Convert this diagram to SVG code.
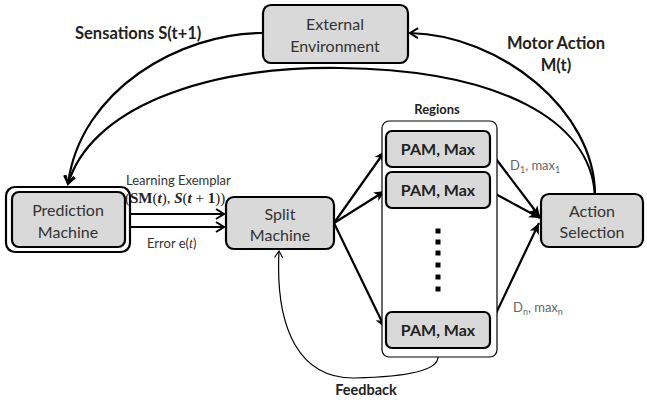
<svg xmlns="http://www.w3.org/2000/svg" width="647" height="402" viewBox="0 0 647 402">
<defs>
<style>
.box{fill:#d9d9d9;stroke:#000;stroke-width:2.2}
.t{font-family:Lato,"Open Sans",sans-serif;font-size:16px;fill:#333;text-anchor:middle}
.b{font-family:Lato,"Open Sans",sans-serif;font-weight:bold;fill:#222}
.c{fill:none;stroke:#000;stroke-width:2.2}
.thin{fill:none;stroke:#000;stroke-width:1.2}
.lbl{font-family:Lato,"Open Sans",sans-serif;font-size:13px;fill:#333}
.g{font-family:Lato,"Open Sans",sans-serif;font-size:13px;fill:#666}
.m{font-family:"Liberation Serif","DejaVu Serif",serif;font-size:15px;fill:#222}
</style>
<marker id="open" viewBox="0 0 12 12" refX="10" refY="6" markerWidth="12" markerHeight="12" markerUnits="userSpaceOnUse" orient="auto">
<path d="M2,1 L10,6 L2,11" fill="none" stroke="#000" stroke-width="2"/>
</marker>
<marker id="solid" viewBox="0 0 12 12" refX="11" refY="6" markerWidth="12" markerHeight="12" markerUnits="userSpaceOnUse" orient="auto">
<path d="M0,1 L11,6 L0,11 L3,6 Z" fill="#000"/>
</marker>
<marker id="thinhead" viewBox="0 0 12 12" refX="10" refY="6" markerWidth="10" markerHeight="10" markerUnits="userSpaceOnUse" orient="auto">
<path d="M2,1 L10,6 L2,11" fill="none" stroke="#000" stroke-width="1.3"/>
</marker>
</defs>

<g id="connectors">
<path class="c" d="M263,33 C180,33 80,90 68,184" marker-end="url(#open)"/>
<path class="c" d="M595,195 C590,120 500,70 340,68 C200,66 90,110 68,184" marker-end="url(#open)"/>
<path class="c" d="M595,195 C595,110 500,35 410,33" marker-end="url(#open)"/>
<line class="c" x1="130" y1="214" x2="224" y2="214" marker-end="url(#open)"/>
<line class="c" x1="130" y1="227" x2="224" y2="227" marker-end="url(#open)"/>
<line class="c" x1="334" y1="223" x2="385" y2="151" marker-end="url(#solid)"/>
<line class="c" x1="334" y1="223" x2="385" y2="191" marker-end="url(#solid)"/>
<line class="c" x1="334" y1="223" x2="385" y2="328" marker-end="url(#solid)"/>
<line class="c" x1="490" y1="151" x2="540" y2="217" marker-end="url(#solid)"/>
<line class="c" x1="490" y1="191" x2="540" y2="218" marker-end="url(#solid)"/>
<line class="c" x1="490" y1="326" x2="539" y2="223" marker-end="url(#solid)"/>
<path class="thin" d="M438,357 C438,372 400,377 355,378 C300,379 275,330 279,251" marker-end="url(#thinhead)"/>
</g>

<g id="external-environment">
<rect class="box" x="263" y="5" width="145" height="58" rx="8"/>
<text class="t" x="335" y="30">External</text>
<text class="t" x="335" y="52">Environment</text>
</g>

<g id="prediction-machine">
<rect x="6" y="187" width="124" height="65" rx="9" fill="#fff" stroke="#000" stroke-width="2.2"/>
<rect class="box" x="12" y="192" width="113" height="55" rx="7"/>
<text class="t" x="68" y="216">Prediction</text>
<text class="t" x="68" y="238">Machine</text>
</g>

<g id="split-machine">
<rect class="box" x="226" y="197" width="108" height="52" rx="8"/>
<text class="t" x="280" y="220">Split</text>
<text class="t" x="280" y="241">Machine</text>
</g>

<g id="regions">
<rect x="382" y="121" width="115" height="236" rx="7" fill="#fff" stroke="#000" stroke-width="1.2"/>
<text class="b" x="437" y="114" font-size="13" text-anchor="middle">Regions</text>
<g fill="#000">
<rect x="435.5" y="228.5" width="5" height="5"/>
<rect x="435.5" y="239.5" width="5" height="5"/>
<rect x="435.5" y="250.5" width="5" height="5"/>
<rect x="435.5" y="262.5" width="5" height="5"/>
<rect x="435.5" y="274.5" width="5" height="5"/>
<rect x="435.5" y="286.5" width="5" height="5"/>
</g>
</g>

<g id="pam-1">
<rect class="box" x="386" y="131" width="104" height="36" rx="6"/>
<text class="b" x="438" y="155" font-size="16" text-anchor="middle">PAM, Max</text>
</g>
<g id="pam-2">
<rect class="box" x="386" y="172" width="104" height="36" rx="6"/>
<text class="b" x="438" y="196" font-size="16" text-anchor="middle">PAM, Max</text>
</g>
<g id="pam-n">
<rect class="box" x="386" y="312" width="104" height="36" rx="6"/>
<text class="b" x="438" y="336" font-size="16" text-anchor="middle">PAM, Max</text>
</g>

<g id="action-selection">
<rect class="box" x="541" y="194" width="102" height="53" rx="8"/>
<text class="t" x="592" y="217">Action</text>
<text class="t" x="592" y="238">Selection</text>
</g>

<g id="labels">
<text class="b" x="75" y="39" font-size="16.5">Sensations S(t+1)</text>
<text class="b" x="556" y="49" font-size="16.5" text-anchor="middle">Motor Action</text>
<text class="b" x="556" y="71" font-size="16.5" text-anchor="middle">M(t)</text>
<text class="lbl" x="126" y="185">Learning Exemplar</text>
<text class="m" x="125" y="203">(<tspan font-weight="bold">SM</tspan>(<tspan font-weight="bold" font-style="italic">t</tspan>), <tspan font-weight="bold" font-style="italic">S</tspan>(<tspan font-weight="bold" font-style="italic">t</tspan> + <tspan font-weight="bold">1</tspan>))</text>
<text class="lbl" x="147" y="248">Error e(<tspan font-family="Liberation Serif,serif" font-style="italic" font-size="14">t</tspan>)</text>
<text class="g" x="510" y="170">D<tspan font-size="9" dy="3">1</tspan><tspan dy="-3">, max</tspan><tspan font-size="9" dy="3">1</tspan></text>
<text class="g" x="513" y="312">D<tspan font-size="9" dy="3">n</tspan><tspan dy="-3">, max</tspan><tspan font-size="9" dy="3">n</tspan></text>
<text class="b" x="366" y="395" font-size="14.5" text-anchor="middle">Feedback</text>
</g>
</svg>
